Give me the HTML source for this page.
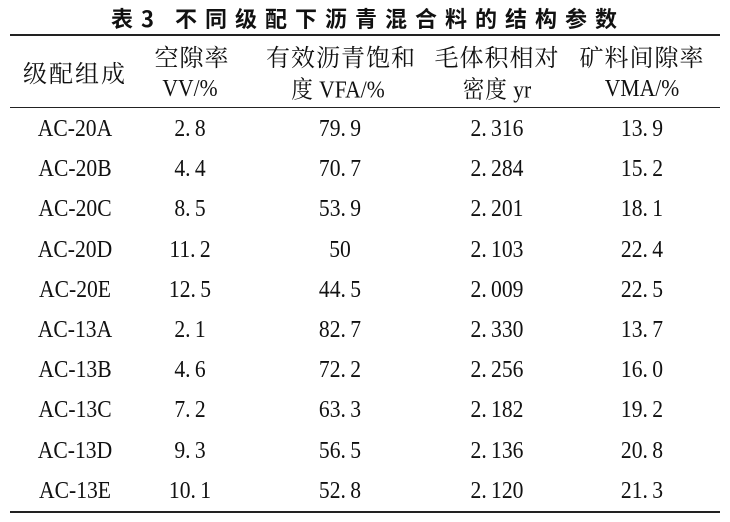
<!DOCTYPE html>
<html><head><meta charset="utf-8"><style>
body{margin:0;background:#fff;width:730px;height:522px;position:relative;overflow:hidden;color:#111}
.t{position:absolute;transform:translate(-50%,-50%) scaleX(0.9);white-space:nowrap;font-family:"Liberation Serif","Noto Serif CJK SC",serif;font-size:24px;line-height:1}
.cjk{font-family:"Noto Serif CJK SC","Noto Sans CJK SC",serif;font-size:24px;letter-spacing:1px}
.h{transform:translate(-50%,-50%)}
.rule{position:absolute;left:10px;width:710px;background:#222}
</style></head><body>
<div class="t cjk h" style="left:368px;top:18px;font-weight:bold;font-family:'Noto Sans CJK SC',sans-serif;font-size:22px;letter-spacing:8px">表3 不同级配下沥青混合料的结构参数</div>
<div class="rule" style="top:34px;height:2px"></div>
<div class="rule" style="top:107px;height:1px"></div>
<div class="rule" style="top:511px;height:2px"></div>
<div class="t cjk h" style="left:75px;top:72px;letter-spacing:2px">级配组成</div>
<div class="t cjk h" style="left:192px;top:56px">空隙率</div>
<div class="t" style="left:190px;top:89px">VV/%</div>
<div class="t cjk h" style="left:341px;top:56px">有效沥青饱和</div>
<div class="t" style="left:338px;top:89px"><span class="cjk">度</span> VFA/%</div>
<div class="t cjk h" style="left:497px;top:56px">毛体积相对</div>
<div class="t" style="left:497px;top:89px"><span class="cjk">密度</span> yr</div>
<div class="t cjk h" style="left:642px;top:56px">矿料间隙率</div>
<div class="t" style="left:642px;top:89px">VMA/%</div>
<div id="rows"></div>
<script>
const names=["AC-20A","AC-20B","AC-20C","AC-20D","AC-20E","AC-13A","AC-13B","AC-13C","AC-13D","AC-13E"];
const vv=["2.8","4.4","8.5","11.2","12.5","2.1","4.6","7.2","9.3","10.1"];
const vfa=["79.9","70.7","53.9","50","44.5","82.7","72.2","63.3","56.5","52.8"];
const dens=["2.316","2.284","2.201","2.103","2.009","2.330","2.256","2.182","2.136","2.120"];
const vma=["13.9","15.2","18.1","22.4","22.5","13.7","16.0","19.2","20.8","21.3"];
const cols=[[names,75,'gradation'],[vv,190,'vv'],[vfa,340,'vfa'],[dens,497,'density'],[vma,642,'vma']];
const root=document.getElementById('rows');
names.forEach((n,i)=>{
  const y=129+i*40.2;
  cols.forEach(([arr,x,key])=>{
    const d=document.createElement('div');
    d.className='t';
    
    
    d.style.left=x+'px';d.style.top=y+'px';
    d.textContent=key==='gradation'?arr[i]:arr[i].replace(/\./,'.\u2009');
    root.appendChild(d);
  });
});
</script>
</body></html>
